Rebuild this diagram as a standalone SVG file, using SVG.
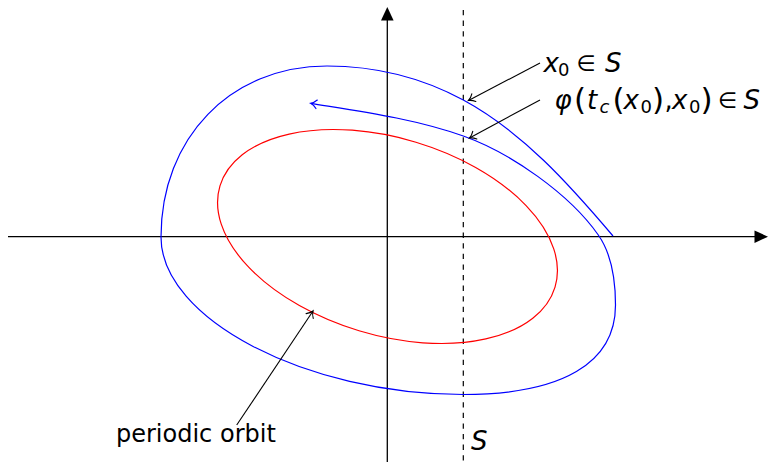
<svg xmlns="http://www.w3.org/2000/svg" width="768" height="462" viewBox="0 0 768 462">
<style>
text{font-family:"DejaVu Sans","Liberation Sans",sans-serif;font-size:24px;fill:#000}
.m{font-size:26px}
.i{font-style:italic}
.sub{font-size:18px}
.par{font-size:31px}
.rel{font-size:22px}
.axis{stroke:#000;stroke-width:1.3;fill:none}
.ann{stroke:#000;stroke-width:1.1;fill:none}
</style>
<defs>
<marker id="tri" markerUnits="userSpaceOnUse" markerWidth="20" markerHeight="16" viewBox="-7 -8 16 16" refX="0" refY="0" orient="auto" overflow="visible">
<path d="M-5.5,-6.3 L8,0 L-5.5,6.3 Z" fill="#000"/>
</marker>
<marker id="chevK" markerUnits="userSpaceOnUse" markerWidth="12" markerHeight="12" viewBox="-8 -6 10 12" refX="0" refY="0" orient="auto" overflow="visible">
<path d="M-6,-4.3 C-4,-2 -1.5,-0.5 0,0 C-1.5,0.5 -4,2 -6,4.3" fill="none" stroke="#000" stroke-width="1.1" stroke-linecap="round"/>
</marker>
<marker id="chevB" markerUnits="userSpaceOnUse" markerWidth="12" markerHeight="12" viewBox="-8 -6 10 12" refX="0" refY="0" orient="auto" overflow="visible">
<path d="M-6,-4.3 C-4,-2 -1.5,-0.5 0,0 C-1.5,0.5 -4,2 -6,4.3" fill="none" stroke="#0000ff" stroke-width="1.2" stroke-linecap="round"/>
</marker>
</defs>

<g id="axes">
<line class="axis" x1="8" y1="236.7" x2="760" y2="236.7" marker-end="url(#tri)"/>
<line class="axis" x1="387.3" y1="462" x2="387.3" y2="15" marker-end="url(#tri)"/>
</g>

<g id="section-S">
<line x1="463.3" y1="10" x2="463.3" y2="462" stroke="#000" stroke-width="1.2" stroke-dasharray="5.3 5.3"/>
<text class="i" x="471" y="450" style="font-size:26px">S</text>
</g>

<g id="periodic-orbit">
<ellipse cx="387.5" cy="236.5" rx="175" ry="98.5" transform="rotate(16.8 387.5 236.5)" fill="none" stroke="#ff0000" stroke-width="1.2"/>
</g>

<g id="trajectory">
<path fill="none" stroke="#0000ff" stroke-width="1.2" marker-end="url(#chevB)" d="M613,236 C569.7,184.9 522.3,131.8 463.3,100 C421.5,77.5 374.5,66 327,66 C230.7,66 161,137.8 161,237 C161,318.9 306,394.5 463,394.5 C562.1,394.5 615.5,363.2 615.5,305 C615.5,281 612.1,254.7 598.3,235 C569.6,194 510.4,152.7 463.3,136 C414.3,118.7 362,111.6 310.7,103.3"/>
</g>

<g id="connectors">
<line class="ann" x1="540" y1="63" x2="468.5" y2="100.5" marker-end="url(#chevK)"/>
<line class="ann" x1="540" y1="100" x2="469.5" y2="138" marker-end="url(#chevK)"/>
<line class="ann" x1="236.7" y1="425" x2="313" y2="311" marker-end="url(#chevK)"/>
</g>

<g id="label-x0">
<text class="m"><tspan class="i" x="543.5" y="72">x</tspan><tspan class="sub" x="558" y="75.5">0</tspan><tspan class="rel" x="576.5" y="71">∈</tspan><tspan class="i" x="605" y="72">S</tspan></text>
</g>

<g id="label-phi">
<text class="m"><tspan class="i" x="554.5" y="109">φ</tspan><tspan class="par" x="574" y="110">(</tspan><tspan class="i" x="587" y="109">t</tspan><tspan class="i sub" x="599.5" y="113">c</tspan><tspan class="par" x="612.5" y="110">(</tspan><tspan class="i" x="623.5" y="109">x</tspan><tspan class="sub" x="640.5" y="113">0</tspan><tspan class="par" x="652" y="110">)</tspan><tspan x="664.5" y="109">,</tspan><tspan class="i" x="672" y="109">x</tspan><tspan class="sub" x="689" y="113">0</tspan><tspan class="par" x="700.5" y="110">)</tspan><tspan class="rel" x="718" y="108">∈</tspan><tspan class="i" x="743.5" y="109">S</tspan></text>
</g>

<g id="label-periodic">
<text x="116" y="441.5">periodic orbit</text>
</g>
</svg>
